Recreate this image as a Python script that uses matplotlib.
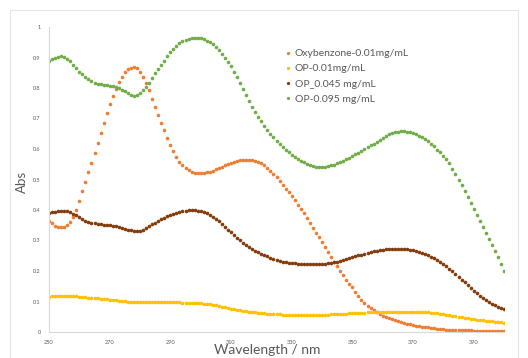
import numpy as np
import matplotlib
matplotlib.use("Agg")
import matplotlib.pyplot as plt
from matplotlib.patches import Rectangle

# wavelength axis, 1 nm steps
wavelength = np.arange(250, 401)

oxybenzone_001 = [
    0.365, 0.356, 0.349, 0.344, 0.343, 0.345, 0.352, 0.362, 0.378, 0.400,
    0.430, 0.462, 0.493, 0.523, 0.554, 0.586, 0.619, 0.652, 0.685, 0.717,
    0.746, 0.773, 0.798, 0.819, 0.837, 0.851, 0.861, 0.867, 0.868, 0.864,
    0.853, 0.836, 0.815, 0.792, 0.765, 0.738, 0.711, 0.686, 0.661, 0.637,
    0.614, 0.593, 0.574, 0.558, 0.546, 0.537, 0.530, 0.525, 0.522, 0.520,
    0.520, 0.521, 0.523, 0.526, 0.529, 0.533, 0.537, 0.542, 0.547, 0.551,
    0.555, 0.558, 0.561, 0.563, 0.564, 0.565, 0.565, 0.564, 0.562, 0.558,
    0.553, 0.546, 0.538, 0.529, 0.519, 0.508, 0.495, 0.482, 0.470, 0.458,
    0.445, 0.432, 0.418, 0.404, 0.389, 0.374, 0.358, 0.342, 0.326, 0.310,
    0.294, 0.278, 0.262, 0.246, 0.231, 0.216, 0.201, 0.186, 0.172, 0.158,
    0.146, 0.132, 0.118, 0.105, 0.094, 0.085, 0.078, 0.071, 0.065, 0.059,
    0.054, 0.050, 0.046, 0.042, 0.038, 0.035, 0.032, 0.029, 0.027, 0.025,
    0.023, 0.021, 0.019, 0.017, 0.016, 0.015, 0.013, 0.012, 0.011, 0.010,
    0.009, 0.008, 0.008, 0.007, 0.007, 0.006, 0.006, 0.005, 0.005, 0.005,
    0.004, 0.004, 0.004, 0.003, 0.003, 0.003, 0.003, 0.002, 0.002, 0.002,
    0.002,
]

op_001 = [
    0.116, 0.117, 0.118, 0.119, 0.119, 0.119, 0.119, 0.118, 0.118, 0.117,
    0.116, 0.115, 0.114, 0.113, 0.112, 0.111, 0.110, 0.109, 0.108, 0.107,
    0.106, 0.105, 0.104, 0.103, 0.102, 0.101, 0.100, 0.099, 0.098, 0.098,
    0.098, 0.098, 0.098, 0.098, 0.098, 0.098, 0.098, 0.098, 0.098, 0.098,
    0.098, 0.097, 0.097, 0.097, 0.096, 0.096, 0.096, 0.095, 0.095, 0.094,
    0.094, 0.093, 0.092, 0.091, 0.089, 0.087, 0.085, 0.083, 0.081, 0.079,
    0.077, 0.075, 0.073, 0.071, 0.069, 0.068, 0.066, 0.065, 0.064, 0.063,
    0.062, 0.061, 0.060, 0.059, 0.059, 0.058, 0.058, 0.057, 0.057, 0.057,
    0.056, 0.056, 0.056, 0.056, 0.056, 0.056, 0.056, 0.056, 0.056, 0.056,
    0.057, 0.057, 0.057, 0.058, 0.058, 0.059, 0.059, 0.060, 0.060, 0.061,
    0.061, 0.062, 0.062, 0.063, 0.063, 0.064, 0.064, 0.065, 0.065, 0.066,
    0.066, 0.066, 0.067, 0.067, 0.067, 0.067, 0.067, 0.067, 0.067, 0.067,
    0.066, 0.066, 0.066, 0.065, 0.065, 0.064, 0.063, 0.062, 0.061, 0.059,
    0.058, 0.056, 0.055, 0.053, 0.051, 0.050, 0.048, 0.046, 0.045, 0.043,
    0.042, 0.040, 0.039, 0.038, 0.037, 0.036, 0.035, 0.034, 0.033, 0.032,
    0.031,
]

op_0045 = [
    0.389, 0.392, 0.395, 0.397, 0.398, 0.398, 0.396, 0.393, 0.388, 0.382,
    0.376, 0.370, 0.365, 0.361, 0.358, 0.356, 0.354, 0.353, 0.352, 0.351,
    0.350, 0.349, 0.347, 0.345, 0.342, 0.339, 0.336, 0.333, 0.331, 0.330,
    0.332, 0.336, 0.341, 0.347, 0.353, 0.359, 0.365, 0.370, 0.375, 0.380,
    0.384, 0.388, 0.391, 0.394, 0.396, 0.398, 0.399, 0.399, 0.399, 0.398,
    0.396, 0.393, 0.389, 0.384, 0.378, 0.371, 0.363, 0.354, 0.345, 0.336,
    0.327, 0.318, 0.309, 0.301, 0.293, 0.286, 0.279, 0.273, 0.267, 0.262,
    0.257, 0.252, 0.248, 0.244, 0.240, 0.237, 0.234, 0.231, 0.229, 0.227,
    0.226, 0.225, 0.224, 0.223, 0.222, 0.222, 0.222, 0.222, 0.222, 0.222,
    0.223, 0.224, 0.225, 0.227, 0.229, 0.231, 0.233, 0.236, 0.239, 0.242,
    0.245, 0.248, 0.251, 0.254, 0.257, 0.260, 0.262, 0.264, 0.266, 0.268,
    0.270, 0.271, 0.272, 0.273, 0.273, 0.273, 0.273, 0.272, 0.271, 0.270,
    0.268, 0.266, 0.263, 0.260, 0.256, 0.252, 0.247, 0.242, 0.236, 0.229,
    0.222, 0.215, 0.207, 0.199, 0.190, 0.181, 0.172, 0.163, 0.154, 0.145,
    0.136, 0.127, 0.119, 0.111, 0.104, 0.098, 0.092, 0.087, 0.082, 0.078,
    0.075,
]

op_0095 = [
    0.889, 0.895, 0.900, 0.903, 0.904, 0.902, 0.896, 0.888, 0.877, 0.866,
    0.854, 0.845, 0.836, 0.828, 0.822, 0.817, 0.814, 0.812, 0.810, 0.809,
    0.808, 0.806, 0.804, 0.800, 0.795, 0.789, 0.782, 0.776, 0.774, 0.776,
    0.782, 0.792, 0.804, 0.818, 0.833, 0.848, 0.862, 0.876, 0.890, 0.904,
    0.917, 0.928, 0.938, 0.946, 0.953, 0.958, 0.962, 0.964, 0.965, 0.965,
    0.963, 0.960, 0.955, 0.950, 0.943, 0.935, 0.924, 0.912, 0.899, 0.886,
    0.871, 0.854, 0.836, 0.816, 0.796, 0.776, 0.757, 0.739, 0.722, 0.706,
    0.691, 0.677, 0.663, 0.650, 0.638, 0.627, 0.617, 0.607, 0.598, 0.589,
    0.581, 0.574, 0.567, 0.561, 0.556, 0.551, 0.547, 0.543, 0.541, 0.540,
    0.540, 0.541, 0.543, 0.546, 0.549, 0.553, 0.557, 0.561, 0.566, 0.571,
    0.576, 0.582, 0.588, 0.594, 0.600, 0.606, 0.612, 0.618, 0.624, 0.630,
    0.637, 0.643, 0.648, 0.652, 0.655, 0.657, 0.658, 0.658, 0.657, 0.655,
    0.652, 0.648, 0.643, 0.638, 0.632, 0.625, 0.618, 0.609, 0.598, 0.589,
    0.578, 0.566, 0.553, 0.536, 0.518, 0.500, 0.481, 0.462, 0.443, 0.423,
    0.403, 0.383, 0.363, 0.343, 0.323, 0.304, 0.285, 0.266, 0.247, 0.224,
    0.200,
]

series = [
    ("Oxybenzone-0.01mg/mL", oxybenzone_001, "#ED7D31"),
    ("OP-0.01mg/mL", op_001, "#FFC000"),
    ("OP_0.045 mg/mL", op_0045, "#843C0C"),
    ("OP-0.095 mg/mL", op_0095, "#70AD47"),
]

plt.rcParams['font.family'] = ['Lato', 'DejaVu Sans']
grey = "#595959"

fig = plt.figure(figsize=(5.28, 3.58), dpi=100)
fig.patches.append(Rectangle((10 / 528, -0.1), 508 / 528, 1.1 - 10 / 358,
                             transform=fig.transFigure, fill=False,
                             edgecolor="#e6e6e6", linewidth=0.8))
ax = fig.add_axes([49 / 528, 26 / 358, 455 / 528, 305 / 358])

for label, vals, color in series:
    ax.plot(wavelength, vals, linestyle="none", marker="o", markersize=2.6,
            markeredgewidth=0, color=color, label=label)

ax.set_xlim(250, 400)
ax.set_ylim(0, 1)
ax.set_xticks(np.arange(250, 400, 20))
ax.set_yticks(np.arange(0, 1.01, 0.1))
ax.set_yticklabels(["0", "0.1", "0.2", "0.3", "0.4", "0.5", "0.6", "0.7", "0.8", "0.9", "1"])
ax.tick_params(length=0, labelsize=4, colors=grey, pad=6)
for s in ["top", "right"]:
    ax.spines[s].set_visible(False)
for s in ["left", "bottom"]:
    ax.spines[s].set_color("#d9d9d9")
    ax.spines[s].set_linewidth(0.8)

fig.text(22 / 528, 1 - 182 / 358, "Abs", rotation=90, ha="center", va="center",
         fontsize=9.5, color=grey)
fig.text(267 / 528, 1 - 344 / 358, "Wavelength / nm", ha="center", va="top",
         fontsize=10, color=grey)

leg = ax.legend(loc="upper left", bbox_to_anchor=(0.497, 0.958), frameon=False,
                fontsize=7.5, labelspacing=0.55, handlelength=0.6,
                handletextpad=0.4, markerscale=0.9)
for t in leg.get_texts():
    t.set_color(grey)

fig.savefig("out.png", dpi=100)
